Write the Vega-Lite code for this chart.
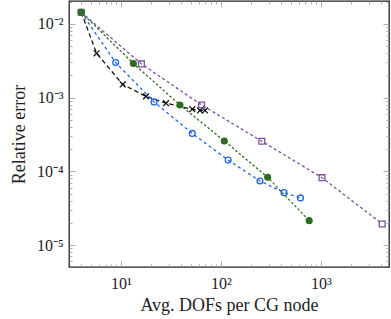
{
  "$schema": "https://vega.github.io/schema/vega-lite/v6.json",
  "width": 320,
  "height": 266,
  "autosize": "none",
  "padding": {"left": 69, "top": 1, "right": 2, "bottom": 52},
  "background": "white",
  "config": {
    "view": {"stroke": "#222", "strokeWidth": 1.3},
    "font": "Liberation Serif",
    "axis": {
      "domain": false,
      "grid": false,
      "labelFont": "Liberation Serif",
      "labelFontSize": 16,
      "labelColor": "#222",
      "titleFont": "Liberation Serif",
      "titleFontSize": 18,
      "titleFontWeight": "normal",
      "titleColor": "#222",
      "tickColor": "#999",
      "tickWidth": 0.8
    }
  },
  "data": {
    "values": [
      {"s": "S1", "x": 4, "y": 0.0144},
      {"s": "S1", "x": 5.7, "y": 0.0040},
      {"s": "S1", "x": 10.4, "y": 0.00151},
      {"s": "S1", "x": 17.8, "y": 0.00104},
      {"s": "S1", "x": 28.2, "y": 0.00084},
      {"s": "S1", "x": 51.6, "y": 0.000696},
      {"s": "S1", "x": 61.7, "y": 0.00067},
      {"s": "S1", "x": 69.2, "y": 0.00067},
      {"s": "S2", "x": 4, "y": 0.0144},
      {"s": "S2", "x": 8.85, "y": 0.00299},
      {"s": "S2", "x": 21.4, "y": 0.000875},
      {"s": "S2", "x": 51.6, "y": 0.000327},
      {"s": "S2", "x": 118, "y": 0.000142},
      {"s": "S2", "x": 245, "y": 0.000074},
      {"s": "S2", "x": 427, "y": 0.0000514},
      {"s": "S2", "x": 624, "y": 0.0000436},
      {"s": "S4", "x": 4, "y": 0.0144},
      {"s": "S4", "x": 16, "y": 0.00287},
      {"s": "S4", "x": 64, "y": 0.000796},
      {"s": "S4", "x": 256, "y": 0.000256},
      {"s": "S4", "x": 1024, "y": 0.000082},
      {"s": "S4", "x": 4096, "y": 0.0000193},
      {"s": "S3", "x": 4, "y": 0.0144},
      {"s": "S3", "x": 13.3, "y": 0.00291},
      {"s": "S3", "x": 38.9, "y": 0.000796},
      {"s": "S3", "x": 108, "y": 0.000258},
      {"s": "S3", "x": 293, "y": 0.000083},
      {"s": "S3", "x": 762, "y": 0.0000214}
    ]
  },
  "layer": [
    {
      "mark": {"type": "line", "strokeWidth": 1.3},
      "encoding": {
        "x": {
          "field": "x", "type": "quantitative",
          "scale": {"type": "log", "domain": [3.02, 4790], "nice": false},
          "axis": {
            "orient": "bottom",
            "title": "Avg. DOFs per CG node",
            "titlePadding": 5,
            "ticks": false,
            "values": [10, 100, 1000],
            "labelExpr": "datum.value == 10 ? '10¹' : datum.value == 100 ? '10²' : datum.value == 1000 ? '10³' : ''",
            "labelPadding": 8
          }
        },
        "y": {
          "field": "y", "type": "quantitative",
          "scale": {"type": "log", "domain": [0.00000503, 0.0205], "nice": false},
          "axis": {
            "orient": "left",
            "title": "Relative error",
            "titlePadding": 8,
            "ticks": false,
            "values": [0.00001, 0.0001, 0.001, 0.01],
            "labelExpr": "datum.value == 0.01 ? '10⁻²' : datum.value == 0.001 ? '10⁻³' : datum.value == 0.0001 ? '10⁻⁴' : datum.value == 0.00001 ? '10⁻⁵' : ''",
            "labelPadding": 6
          }
        },
        "color": {
          "field": "s", "type": "nominal", "legend": null,
          "scale": {"domain": ["S1", "S2", "S3", "S4"], "range": ["#111111", "#1f63e6", "#2d6e1e", "#7e50a0"]}
        },
        "strokeDash": {
          "field": "s", "type": "nominal", "legend": null,
          "scale": {"domain": ["S1", "S2", "S3", "S4"], "range": [[4.5, 3], [3, 3], [2.5, 2], [3, 2.5]]}
        }
      }
    },
    {
      "mark": {"type": "point", "strokeWidth": 1.3, "size": 34, "opacity": 1},
      "encoding": {
        "x": {"field": "x", "type": "quantitative", "axis": null},
        "y": {"field": "y", "type": "quantitative", "axis": null},
        "shape": {
          "field": "s", "type": "nominal", "legend": null,
          "scale": {"domain": ["S1", "S2", "S3", "S4"], "range": ["M -1 -1 L 1 1 M -1 1 L 1 -1", "circle", "circle", "square"]}
        },
        "stroke": {
          "field": "s", "type": "nominal", "legend": null,
          "scale": {"domain": ["S1", "S2", "S3", "S4"], "range": ["#111111", "#1f63e6", "#2d6e1e", "#7e50a0"]}
        },
        "fill": {
          "field": "s", "type": "nominal", "legend": null,
          "scale": {"domain": ["S1", "S2", "S3", "S4"], "range": ["transparent", "transparent", "#2d6e1e", "transparent"]}
        }
      }
    },
    {
      "mark": {"type": "point", "opacity": 0},
      "encoding": {
        "x": {
          "field": "x", "type": "quantitative",
          "axis": {
            "orient": "bottom", "title": null, "labels": false,
            "values": [4,5,6,7,8,9,10,20,30,40,50,60,70,80,90,100,200,300,400,500,600,700,800,900,1000,2000,3000,4000],
            "tickSize": {"condition": {"test": "datum.value == 10 || datum.value == 100 || datum.value == 1000", "value": -6}, "value": -3}
          }
        },
        "y": {
          "field": "y", "type": "quantitative",
          "axis": {
            "orient": "left", "title": null, "labels": false,
            "values": [0.000006,0.000007,0.000008,0.000009,0.00001,0.00002,0.00003,0.00004,0.00005,0.00006,0.00007,0.00008,0.00009,0.0001,0.0002,0.0003,0.0004,0.0005,0.0006,0.0007,0.0008,0.0009,0.001,0.002,0.003,0.004,0.005,0.006,0.007,0.008,0.009,0.01,0.02],
            "tickSize": {"condition": {"test": "datum.value == 0.01 || datum.value == 0.001 || datum.value == 0.0001 || datum.value == 0.00001", "value": -6}, "value": -3}
          }
        }
      }
    },
    {
      "mark": {"type": "point", "opacity": 0},
      "encoding": {
        "x": {
          "field": "x", "type": "quantitative",
          "axis": {
            "orient": "top", "title": null, "labels": false,
            "values": [4,5,6,7,8,9,10,20,30,40,50,60,70,80,90,100,200,300,400,500,600,700,800,900,1000,2000,3000,4000],
            "tickSize": {"condition": {"test": "datum.value == 10 || datum.value == 100 || datum.value == 1000", "value": -6}, "value": -3}
          }
        },
        "y": {
          "field": "y", "type": "quantitative",
          "axis": {
            "orient": "right", "title": null, "labels": false,
            "values": [0.000006,0.000007,0.000008,0.000009,0.00001,0.00002,0.00003,0.00004,0.00005,0.00006,0.00007,0.00008,0.00009,0.0001,0.0002,0.0003,0.0004,0.0005,0.0006,0.0007,0.0008,0.0009,0.001,0.002,0.003,0.004,0.005,0.006,0.007,0.008,0.009,0.01,0.02],
            "tickSize": {"condition": {"test": "datum.value == 0.01 || datum.value == 0.001 || datum.value == 0.0001 || datum.value == 0.00001", "value": -6}, "value": -3}
          }
        }
      }
    }
  ],
  "resolve": {"axis": {"x": "independent", "y": "independent"}}
}
